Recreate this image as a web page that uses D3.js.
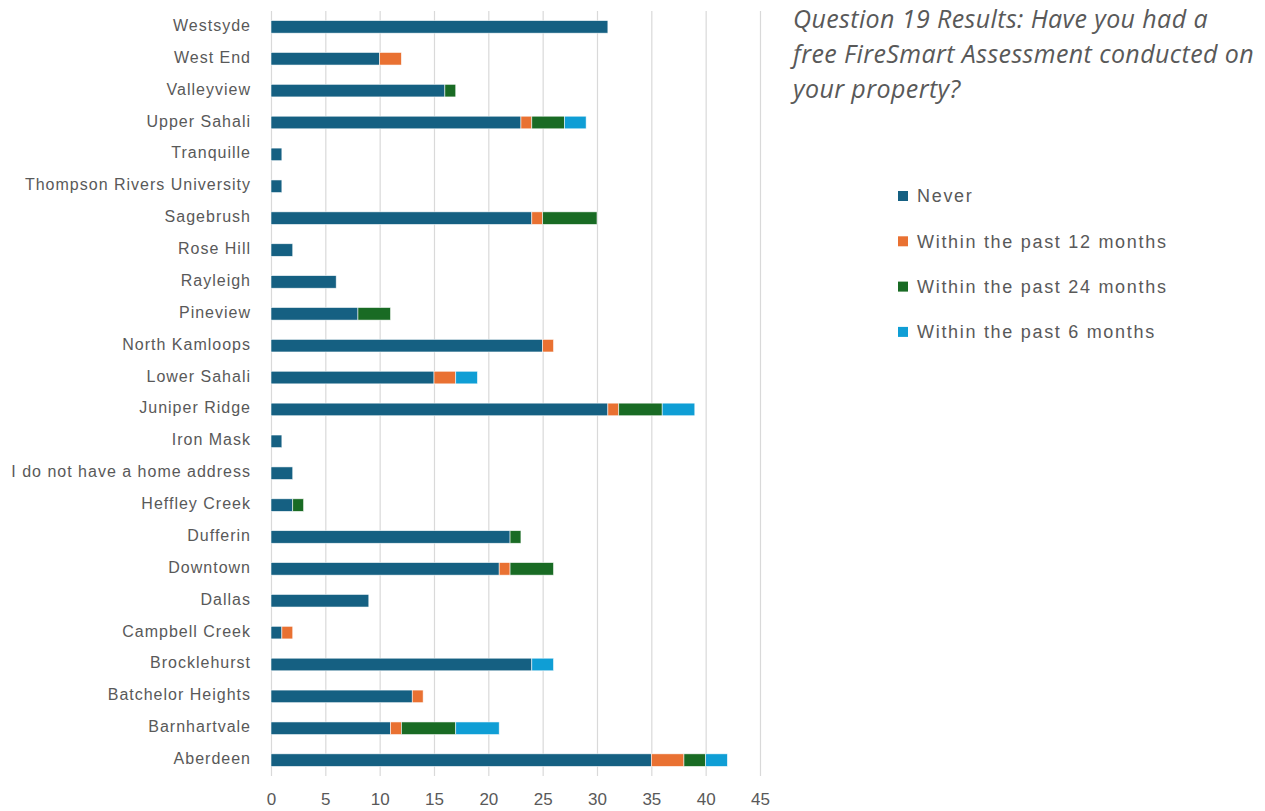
<!DOCTYPE html>
<html><head><meta charset="utf-8">
<script src="https://cdn.jsdelivr.net/npm/d3@7"></script>
<style>body{margin:0;background:#fff;} svg{display:block;}</style>
</head><body>
<svg id="c" width="1265" height="811"></svg>
<script>
const categories = ["Westsyde","West End","Valleyview","Upper Sahali","Tranquille","Thompson Rivers University","Sagebrush","Rose Hill","Rayleigh","Pineview","North Kamloops","Lower Sahali","Juniper Ridge","Iron Mask","I do not have a home address","Heffley Creek","Dufferin","Downtown","Dallas","Campbell Creek","Brocklehurst","Batchelor Heights","Barnhartvale","Aberdeen"];
const seriesNames = ["Never","Within the past 12 months","Within the past 24 months","Within the past 6 months"];
const never    = [31,10,16,23,1,1,24,2,6,8,25,15,31,1,2,2,22,21,9,1,24,13,11,35];
const past12   = [0,2,0,1,0,0,1,0,0,0,1,2,1,0,0,0,0,1,0,1,0,1,1,3];
const past24   = [0,0,1,3,0,0,5,0,0,3,0,0,4,0,0,1,1,4,0,0,0,0,5,2];
const past6    = [0,0,0,2,0,0,0,0,0,0,0,2,3,0,0,0,0,0,0,0,2,0,4,2];
const colors   = ["#156082","#E97132","#196B24","#0F9ED5"];
const xTicks   = [0,5,10,15,20,25,30,35,40,45];
const titleLines = ["Question 19 Results: Have you had a","free FireSmart Assessment conducted on","your property?"];

const svg = d3.select("#c");
const rows = categories.map((c,i)=>({cat:c, Never:never[i], "Within the past 12 months":past12[i], "Within the past 24 months":past24[i], "Within the past 6 months":past6[i]}));
const stack = d3.stack().keys(seriesNames)(rows);

const x = d3.scaleLinear().domain([0,45]).range([271,760]);
const y = d3.scaleBand().domain(categories).range([11,776]).paddingInner(0.605).paddingOuter(0.3);

// gridlines
svg.append("g").selectAll("line").data(xTicks).join("line")
  .attr("x1",d=>x(d)+0.5).attr("x2",d=>x(d)+0.5).attr("y1",11).attr("y2",776)
  .attr("stroke","#d9d9d9").attr("stroke-width",1.2);

// bars
const g = svg.append("g");
stack.forEach((s,k)=>{
  g.append("g").selectAll("rect").data(s.filter(d=>d[1]>d[0])).join("rect")
    .attr("x",d=>x(d[0])).attr("width",d=>x(d[1])-x(d[0]))
    .attr("y",d=>y(d.data.cat)).attr("height",y.bandwidth())
    .attr("fill",colors[k]).attr("stroke","#ffffff").attr("stroke-width",0.7).attr("stroke-opacity",0.8);
});

// category axis labels
const yAxis = d3.axisLeft(y).tickSize(0).tickPadding(0);
const ya = svg.append("g").attr("transform","translate(251,0)").call(yAxis);
ya.select(".domain").remove();
ya.selectAll("text").attr("font-family","Liberation Sans, Arial, sans-serif").attr("font-size","16px")
  .attr("fill","#595959").attr("letter-spacing","1px").attr("dy","0.25em");

// x axis labels
const xAxis = d3.axisBottom(x).tickValues(xTicks).tickSize(0).tickPadding(0);
const xa = svg.append("g").attr("transform","translate(0,794)").call(xAxis);
xa.select(".domain").remove();
xa.selectAll("text").attr("font-family","Liberation Sans, Arial, sans-serif").attr("font-size","17px").attr("fill","#595959").attr("dy","0.32em").attr("y",6);

// title
svg.append("g").selectAll("text").data(titleLines).join("text")
  .attr("x",793).attr("y",(d,i)=>28+i*35)
  .attr("font-family","Open Sans, sans-serif").attr("font-style","italic").attr("font-size","25px")
  .attr("letter-spacing","0.4px")
  .attr("fill","#595959").text(d=>d);

// legend
const lg = svg.append("g");
seriesNames.forEach((n,i)=>{
  const yy = 196 + i*45.3;
  lg.append("rect").attr("x",898).attr("y",yy-5).attr("width",10).attr("height",10).attr("fill",colors[i]);
  lg.append("text").attr("x",917).attr("y",yy).attr("dy","0.35em")
    .attr("font-family","Liberation Sans, Arial, sans-serif").attr("font-size","18px").attr("letter-spacing","1.7px")
    .attr("fill","#595959").text(n);
});
</script>
</body></html>
